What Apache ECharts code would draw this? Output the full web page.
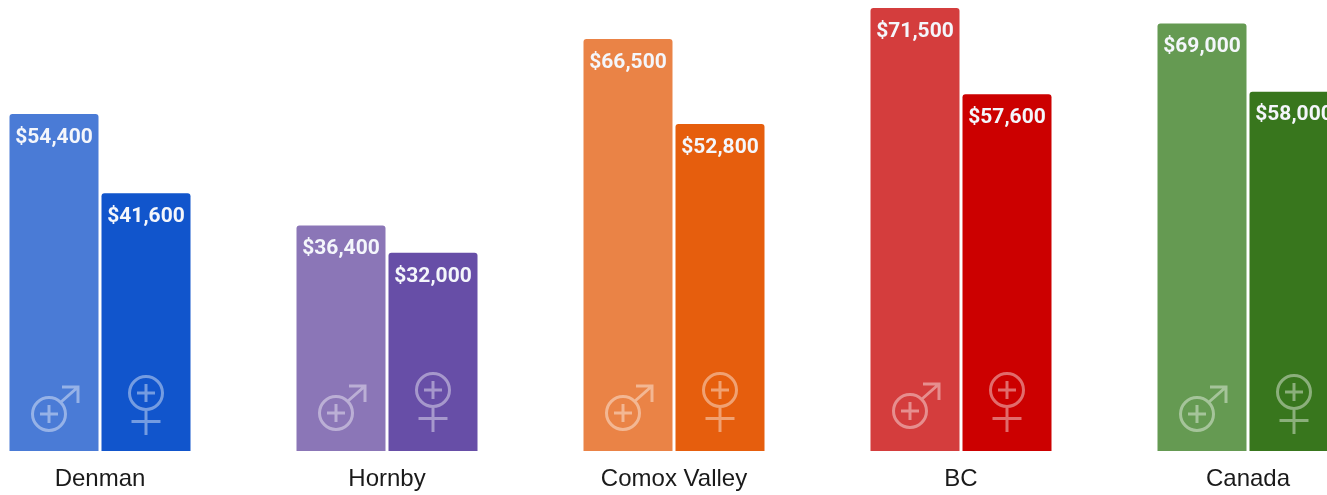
<!DOCTYPE html>
<html><head><meta charset="utf-8">
<style>html,body{margin:0;padding:0;background:#fff}#c{width:1327px;height:495px}</style>
<script src="https://cdn.jsdelivr.net/npm/echarts@6/dist/echarts.min.js"></script>
</head><body><div id="c"></div>
<script>
const categories = ['Denman','Hornby','Comox Valley','BC','Canada'];
const maleIncome = [54400,36400,66500,71500,69000];
const femaleIncome = [41600,32000,52800,57600,58000];
const maleColors = ['#4a7bd6','#8b76b7','#ea8346','#d43d3d','#659a52'];
const femaleColors = ['#1155cc','#674ea7','#e65e0d','#cc0000','#38761d'];
const maleIconLift = [0,1,1,3,0];
const femaleIconLift = [0,3,3,3,1];

const chart = echarts.init(document.getElementById('c'),null,{renderer:'canvas'});
const BW = 89, GAP = 3;
const iconStyle = {stroke:'rgba(255,255,255,0.42)',lineWidth:3,fill:null};
const R = 16.5;
function circlePath(cx,cy,r){
  return `M${cx-r} ${cy}A${r} ${r} 0 1 1 ${cx+r} ${cy}A${r} ${r} 0 1 1 ${cx-r} ${cy}Z`;
}
function plusPath(cx,cy){
  return `M${cx-9} ${cy}L${cx+9} ${cy}M${cx} ${cy-9}L${cx} ${cy+9}`;
}
function renderIcons(params,api){
  const i = api.value(0);
  const base = api.coord([i,0]);
  const mx = base[0]-(BW+GAP)/2, fx = base[0]+(BW+GAP)/2;
  const my = base[1]-37-maleIconLift[i], fy = base[1]-58-femaleIconLift[i];
  const mc = mx-5;
  const male = circlePath(mc,my,R)+plusPath(mc,my)
    +`M${mc+12} ${my-12}L${mc+29} ${my-27}M${mc+13} ${my-27}L${mc+29} ${my-27}L${mc+29} ${my-11}`;
  const female = circlePath(fx,fy,R)+plusPath(fx,fy)
    +`M${fx} ${fy+R}L${fx} ${fy+42}M${fx-14.5} ${fy+28.5}L${fx+14.5} ${fy+28.5}`;
  const el = d=>({type:'path',silent:true,style:iconStyle,shape:{pathData:d}});
  return {type:'group',children:[el(male),el(female)]};
}
const money = p=>'$'+p.value.toLocaleString('en-US');
const labelCfg = {show:true,position:'insideTop',distance:13,color:'#f4f6fb',
  fontFamily:'Roboto',fontWeight:'bold',fontSize:21,formatter:money};
chart.setOption({
  animation:false,
  backgroundColor:'#fff',
  grid:{left:-43.5,width:1435,top:5,bottom:44,containLabel:false,outerBoundsMode:'none'},
  xAxis:{type:'category',data:categories,
    axisLine:{show:false},axisTick:{show:false},
    axisLabel:{color:'#1a1a1a',fontFamily:'Liberation Sans',fontSize:24,margin:16,interval:0}},
  yAxis:{type:'value',min:0,max:72000,show:false,splitLine:{show:false}},
  series:[
    {type:'bar',name:'Male',barWidth:BW,barGap:(GAP/BW*100)+'%',
     data:maleIncome.map((v,i)=>({value:v,itemStyle:{color:maleColors[i],borderRadius:[3,3,0,0]}})),label:labelCfg},
    {type:'bar',name:'Female',barWidth:BW,barGap:(GAP/BW*100)+'%',
     data:femaleIncome.map((v,i)=>({value:v,itemStyle:{color:femaleColors[i],borderRadius:[3,3,0,0]}})),label:labelCfg},
    {type:'custom',renderItem:renderIcons,silent:true,clip:false,z:5,
     encode:{x:0,y:1},data:categories.map((c,i)=>[i,0])}
  ]
});
</script></body></html>
